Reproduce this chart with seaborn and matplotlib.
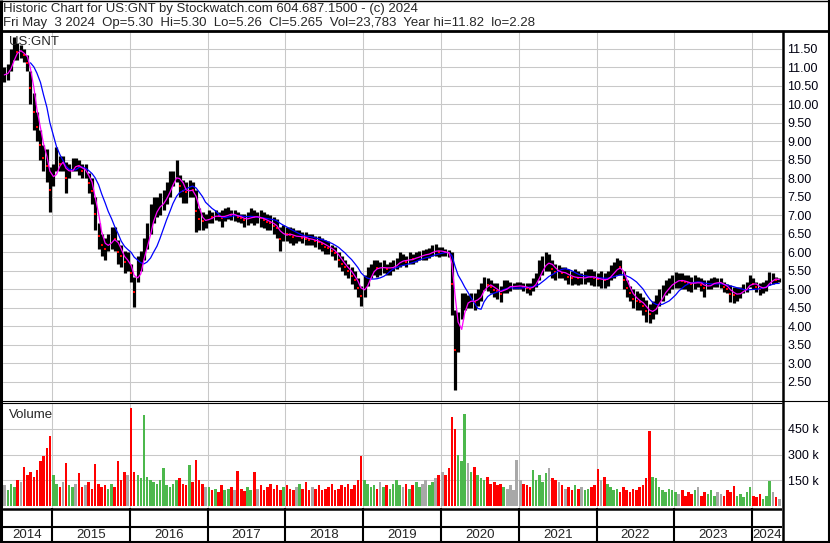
import numpy as np
import pandas as pd
import matplotlib
matplotlib.use("Agg")
import matplotlib.pyplot as plt
import matplotlib.dates as mdates
import seaborn as sns

sns.set_style("white")
plt.rcParams['font.family'] = ['Liberation Sans', 'DejaVu Sans']

# Semimonthly price range (high / low), one list per year
hi_2014 = [11.00, 11.10, 11.50, 11.82, 11.65, 11.60, 11.50, 11.35, 10.90, 10.30, 9.80, 9.30, 8.90, 8.80, 8.30]
lo_2014 = [10.60, 10.65, 10.90, 11.20, 11.20, 11.25, 11.15, 10.90, 10.00, 9.30, 9.00, 8.50, 8.20, 7.90, 7.10]
hi_2015 = [8.40, 8.85, 8.60, 8.60, 8.45, 8.40, 8.55, 8.55, 8.50, 8.40, 8.40, 8.15, 8.00, 7.50, 6.80, 6.50, 6.40, 6.50, 6.70, 6.70, 6.35, 6.20, 6.05, 6.00]
lo_2015 = [7.80, 8.20, 8.20, 8.20, 7.60, 8.00, 8.20, 8.20, 8.10, 8.00, 8.00, 7.60, 7.30, 6.60, 6.10, 5.90, 5.80, 6.05, 6.10, 6.05, 5.70, 5.60, 5.45, 5.50]
hi_2016 = [5.70, 5.35, 5.90, 6.05, 6.40, 6.80, 7.30, 7.50, 7.50, 7.60, 7.70, 7.90, 8.20, 8.20, 8.50, 8.10, 7.95, 7.90, 7.95, 7.90, 7.70, 7.20, 7.10, 7.05]
lo_2016 = [5.20, 4.53, 5.20, 5.50, 5.80, 6.10, 6.50, 6.80, 6.95, 7.00, 7.15, 7.30, 7.50, 7.80, 7.90, 7.50, 7.35, 7.35, 7.50, 7.50, 6.55, 6.60, 6.60, 6.65]
hi_2017 = [7.15, 7.10, 7.15, 7.10, 7.15, 7.20, 7.23, 7.15, 7.15, 7.10, 7.05, 7.05, 7.10, 7.20, 7.15, 7.10, 7.15, 7.10, 7.05, 7.00, 6.95, 6.90, 6.70, 6.75]
lo_2017 = [6.80, 6.80, 6.88, 6.85, 6.70, 6.85, 6.90, 6.88, 6.85, 6.83, 6.80, 6.70, 6.75, 6.80, 6.75, 6.80, 6.70, 6.65, 6.60, 6.60, 6.50, 6.40, 6.05, 6.30]
hi_2018 = [6.70, 6.70, 6.65, 6.60, 6.60, 6.55, 6.55, 6.50, 6.50, 6.45, 6.45, 6.40, 6.35, 6.30, 6.20, 6.15, 6.00, 5.90, 5.80, 5.70, 5.60, 5.50, 5.30, 5.10]
lo_2018 = [6.30, 6.25, 6.20, 6.25, 6.30, 6.25, 6.20, 6.20, 6.20, 6.15, 6.10, 6.05, 5.95, 5.95, 5.90, 5.80, 5.60, 5.50, 5.40, 5.30, 5.15, 5.00, 4.80, 4.55]
hi_2019 = [5.40, 5.60, 5.70, 5.80, 5.80, 5.75, 5.80, 5.70, 5.75, 5.80, 5.85, 6.00, 5.95, 5.90, 6.00, 5.95, 6.00, 6.05, 6.07, 6.10, 6.12, 6.20, 6.23, 6.15]
lo_2019 = [4.80, 5.10, 5.30, 5.40, 5.35, 5.40, 5.45, 5.40, 5.40, 5.50, 5.55, 5.60, 5.65, 5.60, 5.70, 5.70, 5.75, 5.80, 5.80, 5.80, 5.85, 5.90, 5.90, 5.88]
hi_2020 = [6.15, 6.10, 6.07, 6.00, 4.45, 4.40, 4.90, 4.90, 4.85, 4.90, 4.90, 5.00, 5.17, 5.34, 5.30, 5.26, 5.17, 5.17, 5.10, 5.26, 5.26, 5.20, 5.17, 5.20]
lo_2020 = [5.90, 5.90, 5.88, 4.30, 2.28, 3.30, 4.20, 4.45, 4.50, 4.50, 4.45, 4.55, 4.70, 4.99, 4.95, 4.90, 4.80, 4.75, 4.66, 4.90, 4.90, 4.95, 5.00, 5.00]
hi_2021 = [5.20, 5.17, 5.17, 5.17, 5.30, 5.45, 5.80, 5.90, 6.00, 5.97, 5.80, 5.70, 5.66, 5.60, 5.60, 5.55, 5.50, 5.55, 5.50, 5.45, 5.50, 5.55, 5.55, 5.50]
lo_2021 = [5.00, 4.95, 4.90, 4.85, 4.95, 5.07, 5.26, 5.40, 5.50, 5.50, 5.30, 5.26, 5.30, 5.30, 5.26, 5.15, 5.12, 5.15, 5.12, 5.15, 5.15, 5.20, 5.12, 5.10]
hi_2022 = [5.45, 5.50, 5.45, 5.50, 5.65, 5.74, 5.85, 5.80, 5.50, 5.26, 5.10, 5.00, 4.95, 4.90, 4.80, 4.72, 4.60, 4.70, 4.85, 5.00, 5.12, 5.26, 5.30, 5.40]
lo_2022 = [5.10, 5.05, 5.04, 5.10, 5.26, 5.30, 5.40, 5.40, 5.00, 4.80, 4.70, 4.50, 4.45, 4.45, 4.30, 4.12, 4.10, 4.20, 4.35, 4.55, 4.70, 4.85, 4.90, 5.00]
hi_2023 = [5.47, 5.45, 5.45, 5.40, 5.40, 5.35, 5.40, 5.34, 5.30, 5.26, 5.26, 5.30, 5.34, 5.30, 5.30, 5.20, 5.15, 5.12, 5.07, 5.07, 5.07, 5.15, 5.20, 5.39]
lo_2023 = [5.04, 5.05, 5.00, 5.00, 4.95, 4.93, 5.00, 5.07, 4.95, 4.80, 5.00, 5.00, 5.07, 5.07, 5.05, 4.93, 4.90, 4.66, 4.63, 4.70, 4.77, 4.90, 4.93, 5.07]
hi_2024 = [5.30, 5.20, 5.17, 5.20, 5.26, 5.47, 5.45, 5.34, 5.30]
lo_2024 = [5.00, 4.93, 4.85, 4.90, 4.95, 5.12, 5.15, 5.17, 5.20]

# Volume (thousands of shares) per half month
vol_2014 = [120, 90, 130, 110, 150, 140, 230, 180, 200, 170, 210, 260, 290, 340, 406]
vol_2015 = [180, 130, 110, 140, 250, 120, 110, 130, 190, 110, 120, 140, 100, 245, 130, 110, 120, 100, 130, 110, 265, 150, 200, 180]
vol_2016 = [573, 200, 180, 160, 531, 170, 150, 140, 130, 150, 223, 120, 110, 130, 150, 160, 130, 120, 240, 140, 270, 150, 130, 110]
vol_2017 = [110, 90, 100, 80, 120, 90, 100, 110, 95, 205, 100, 85, 110, 90, 195, 100, 120, 90, 110, 130, 100, 120, 90, 110]
vol_2018 = [120, 100, 90, 110, 130, 100, 140, 90, 110, 100, 120, 90, 100, 110, 130, 90, 100, 120, 110, 130, 100, 120, 150, 290]
vol_2019 = [150, 130, 110, 120, 100, 140, 110, 120, 100, 130, 150, 120, 110, 130, 100, 120, 140, 110, 130, 150, 120, 140, 160, 180]
vol_2020 = [200, 180, 220, 520, 450, 300, 260, 535, 250, 200, 230, 180, 160, 150, 170, 130, 140, 120, 130, 110, 100, 120, 90, 270]
vol_2021 = [150, 130, 120, 110, 210, 150, 180, 140, 190, 223, 160, 150, 140, 120, 100, 110, 90, 120, 100, 110, 90, 100, 110, 120]
vol_2022 = [217, 150, 170, 130, 110, 90, 100, 80, 110, 90, 80, 100, 90, 110, 120, 160, 436, 170, 160, 110, 90, 80, 100, 90]
vol_2023 = [80, 70, 90, 60, 80, 70, 90, 110, 60, 80, 70, 90, 60, 80, 70, 60, 90, 80, 115, 60, 70, 50, 80, 110]
vol_2024 = [60, 50, 70, 40, 60, 145, 80, 50, 40]

years = list(range(2014, 2025))
price_ticks = np.arange(2.5, 11.51, 0.5)
vol_ticks = [150, 300, 450]
vol_labels = ["150 k", "300 k", "450 k"]
header1 = "Historic Chart for US:GNT by Stockwatch.com 604.687.1500 - (c) 2024"
header2 = "Fri May  3 2024  Op=5.30  Hi=5.30  Lo=5.26  Cl=5.265  Vol=23,783  Year hi=11.82  lo=2.28"

hi = np.array(hi_2014 + hi_2015 + hi_2016 + hi_2017 + hi_2018 + hi_2019 + hi_2020 + hi_2021 + hi_2022 + hi_2023 + hi_2024)
lo = np.array(lo_2014 + lo_2015 + lo_2016 + lo_2017 + lo_2018 + lo_2019 + lo_2020 + lo_2021 + lo_2022 + lo_2023 + lo_2024)
vol = np.array(vol_2014 + vol_2015 + vol_2016 + vol_2017 + vol_2018 + vol_2019 + vol_2020 + vol_2021 + vol_2022 + vol_2023 + vol_2024)

dates = pd.date_range("2014-05-15", periods=len(hi), freq="SMS") + pd.Timedelta(days=7)
x = mdates.date2num(dates)
mid = pd.Series((hi + lo) / 2)
ma_short = mid.rolling(3, min_periods=1).mean()
ma_long = mid.rolling(9).mean()
chg = mid.diff().fillna(0).values
vol_colors = np.where(chg > 0.02, "#4cb84c", np.where(chg < -0.02, "#ff0000", "#a8a8a8"))

W, H = 830, 543
fig = plt.figure(figsize=(W / 100, H / 100), dpi=100)
fig.patch.set_facecolor("white")

def px_rect(x0, y0, x1, y1):
    return [x0 / W, 1 - y1 / H, (x1 - x0) / W, (y1 - y0) / H]

xlim = (mdates.date2num(pd.Timestamp("2014-05-16")), mdates.date2num(pd.Timestamp("2024-05-21")))
bounds = mdates.date2num(pd.to_datetime([f"{y}-01-01" for y in years[1:]]))
grid_c = "#c8c8c8"

# price panel
ax_p = fig.add_axes(px_rect(3, 32, 782, 400.5))
ax_p.set_xlim(xlim)
ax_p.set_ylim(2.0, 11.959)
for t in price_ticks:
    ax_p.axhline(t, color=grid_c, lw=0.75, zorder=0)
for b in bounds:
    ax_p.axvline(b, color=grid_c, lw=0.75, zorder=0)
ax_p.vlines(x, lo, hi, color="black", lw=2.3, zorder=2)
down = chg < -0.02
ax_p.scatter(x[down], mid[down], marker="s", s=3, color="red", lw=0, zorder=3)
sns.lineplot(x=x, y=ma_long, ax=ax_p, color="#0000ff", lw=0.9, zorder=4)
sns.lineplot(x=x, y=ma_short, ax=ax_p, color="#ff00ff", lw=0.9, zorder=5)
ax_p.set_yticks(price_ticks)
ax_p.set_yticklabels([f"{t:.2f}" for t in price_ticks])
ax_p.yaxis.tick_right()
ax_p.set_xticks([])
ax_p.tick_params(axis="y", length=0, pad=4, labelsize=9, labelcolor="#000010")
ax_p.set_xlabel("")
ax_p.set_ylabel("")
for s in ax_p.spines.values():
    s.set_visible(False)
ax_p.text(0.008, 0.99, "US:GNT", transform=ax_p.transAxes, fontsize=9.5, va="top", ha="left")

# volume panel
ax_v = fig.add_axes(px_rect(3, 403.5, 782, 508))
ax_v.set_xlim(xlim)
ax_v.set_ylim(-13, 599)
for t in vol_ticks:
    ax_v.axhline(t, color=grid_c, lw=0.75, zorder=0)
for b in bounds:
    ax_v.axvline(b, color=grid_c, lw=0.75, zorder=0)
ax_v.bar(x, vol, width=12, color=vol_colors, lw=0, zorder=2)
ax_v.set_yticks(vol_ticks)
ax_v.set_yticklabels(vol_labels)
ax_v.yaxis.tick_right()
ax_v.set_xticks([])
ax_v.tick_params(axis="y", length=0, pad=4, labelsize=9, labelcolor="#000010")
for s in ax_v.spines.values():
    s.set_visible(False)
ax_v.text(0.008, 0.95, "Volume", transform=ax_v.transAxes, fontsize=9.5, va="top", ha="left")

# date strip
ax_d = fig.add_axes(px_rect(3, 508, 782, 543))
ax_d.set_xlim(xlim)
ax_d.set_ylim(35, 0)
ax_d.axhline(1, color="black", lw=1.8)
ax_d.axhline(19, color="black", lw=1.5)
for b in bounds:
    ax_d.axvline(b, color="black", lw=1.5)
for y in years:
    a = max(xlim[0], mdates.date2num(pd.Timestamp(f"{y}-01-01")))
    c = min(xlim[1], mdates.date2num(pd.Timestamp(f"{y + 1}-01-01")))
    ax_d.text((a + c) / 2, 27.5, str(y), ha="center", va="center", fontsize=9.5)
ax_d.axis("off")

# frame and header in pixel coordinates
ax_o = fig.add_axes([0, 0, 1, 1], zorder=10)
ax_o.set_xlim(0, W)
ax_o.set_ylim(H, 0)
ax_o.patch.set_alpha(0)
ax_o.axis("off")
k = dict(color="black", solid_capstyle="butt")
ax_o.plot([1, 1], [0, H], lw=2.2, **k)
ax_o.plot([W - 1.5, W - 1.5], [0, H], lw=1.5, **k)
ax_o.plot([0, W], [H - 1, H - 1], lw=1.5, **k)
ax_o.plot([0, W], [0.5, 0.5], lw=1.0, **k)
ax_o.plot([0, W], [31, 31], lw=2.0, **k)
ax_o.plot([782.5, 782.5], [31, H], lw=1.8, **k)
ax_o.plot([0, W], [401, 401], lw=0.8, **k)
ax_o.plot([0, 782], [403, 403], lw=0.8, **k)
ax_o.text(3, 9, header1, fontsize=9.5, va="center", ha="left")
ax_o.text(3, 23, header2, fontsize=9.5, va="center", ha="left")

fig.savefig("out.png", dpi=100, facecolor="white")
